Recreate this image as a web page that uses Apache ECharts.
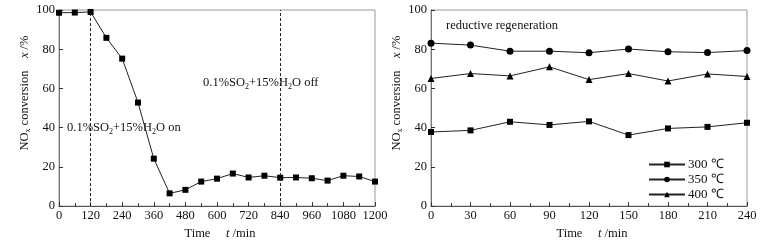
<!DOCTYPE html>
<html>
<head>
<meta charset="utf-8">
<script src="https://cdn.jsdelivr.net/npm/echarts@6/dist/echarts.min.js"></script>
<style>
  html, body { margin: 0; padding: 0; background: #fff; }
  #chart { width: 784px; height: 245px; }
</style>
</head>
<body>
<div id="chart"></div>
<script>
  // left panel: SO2 + H2O poisoning test
  var timeLeft = [0, 60, 120, 180, 240, 300, 360, 420, 480, 540, 600, 660, 720, 780, 840, 900, 960, 1020, 1080, 1140, 1200];
  var convLeft = [98.6, 98.7, 99, 85.8, 75.2, 52.8, 24.2, 6.5, 8.3, 12.5, 14, 16.6, 14.6, 15.5, 14.5, 14.6, 14.2, 13, 15.5, 15.1, 12.5];
  var switchTimes = [120, 840];

  // right panel: reductive regeneration
  var timeRight = [0, 30, 60, 90, 120, 150, 180, 210, 240];
  var conv300 = [37.8, 38.6, 43, 41.4, 43.2, 36.2, 39.6, 40.4, 42.5];
  var conv350 = [83.1, 82.1, 79, 79, 78.2, 80.1, 78.7, 78.3, 79.3];
  var conv400 = [65.1, 67.6, 66.4, 71, 64.5, 67.6, 63.8, 67.4, 66.1];
  var seriesNames = ['300 ℃', '350 ℃', '400 ℃'];

  var xLeftMax = 1200, xLeftStep = 120;
  var xRightMax = 240, xRightStep = 30;
  var yMax = 100, yStep = 20;

  var font = "'Liberation Serif', 'Times New Roman', serif";
  var ink = '#111';

  function pairs(xs, ys) {
    var out = [];
    for (var i = 0; i < xs.length; i++) {
      out.push([xs[i], ys[i]]);
    }
    return out;
  }

  var rich = {
    sub: { fontSize: 8, fontFamily: font, color: ink, padding: [8, 0, 0, 0] },
    i: { fontStyle: 'italic', fontSize: 12.5, fontFamily: font, color: ink }
  };

  function xAxis(idx, max, step) {
    return {
      type: 'value',
      gridIndex: idx,
      min: 0,
      max: max,
      interval: step,
      name: 'Time     {i|t} /min',
      nameLocation: 'middle',
      nameGap: 20,
      nameTextStyle: { fontFamily: font, fontSize: 12.5, color: ink, rich: rich, padding: [0, 0, 0, 6] },
      axisLine: { lineStyle: { color: '#555', width: 1 } },
      axisTick: { inside: true, length: 4, lineStyle: { color: '#333' } },
      minorTick: { show: true, splitNumber: 2, length: 3, lineStyle: { color: '#333' } },
      axisLabel: {
        fontFamily: font, fontSize: 12.5, color: ink, margin: 3,
        formatter: function (v) { return String(v); }
      },
      splitLine: { show: false }
    };
  }

  function yAxis(idx) {
    return {
      type: 'value',
      gridIndex: idx,
      min: 0,
      max: yMax,
      interval: yStep,
      name: 'NO{sub|x} conversion    {i|x} /%',
      nameLocation: 'middle',
      nameGap: 26,
      nameTextStyle: { fontFamily: font, fontSize: 12.5, color: ink, rich: rich, padding: [0, 0, 0, 30] },
      axisLine: { show: true, lineStyle: { color: '#777', width: 1 } },
      axisTick: { inside: true, length: 4, lineStyle: { color: '#333' } },
      axisLabel: { fontFamily: font, fontSize: 12.5, color: ink, margin: 4 },
      splitLine: { show: false }
    };
  }

  function line(name, xIdx, data, symbol, size, extra) {
    var s = {
      name: name,
      type: 'line',
      xAxisIndex: xIdx,
      yAxisIndex: xIdx,
      data: data,
      symbol: symbol,
      symbolSize: size,
      showAllSymbol: true,
      lineStyle: { color: '#222', width: 1 },
      itemStyle: { color: '#000' },
      animation: false
    };
    for (var k in extra) s[k] = extra[k];
    return s;
  }

  var chart = echarts.init(document.getElementById('chart'));
  chart.setOption({
    backgroundColor: '#fff',
    animation: false,
    textStyle: { fontFamily: font },
    grid: [
      { left: 59, top: 10, width: 316, height: 204, show: true, borderColor: '#999', borderWidth: 1, containLabel: false },
      { left: 431, top: 10, width: 316, height: 204, show: true, borderColor: '#999', borderWidth: 1, containLabel: false }
    ],
    xAxis: [xAxis(0, xLeftMax, xLeftStep), xAxis(1, xRightMax, xRightStep)],
    yAxis: [yAxis(0), yAxis(1)],
    legend: {
      data: seriesNames,
      orient: 'vertical',
      left: 643,
      top: 153,
      itemWidth: 36,
      itemHeight: 7,
      itemGap: 2,
      textStyle: { fontFamily: font, fontSize: 13, color: ink, padding: [0, 0, 0, -2] }
    },
    graphic: [
      {
        type: 'text', left: 67, top: 121,
        style: {
          text: '0.1%SO{sub|2}+15%H{sub|2}O on',
          font: '12.5px ' + font, fill: ink, rich: rich
        }
      },
      {
        type: 'text', left: 203, top: 76,
        style: {
          text: '0.1%SO{sub|2}+15%H{sub|2}O off',
          font: '12.5px ' + font, fill: ink, rich: rich
        }
      },
      {
        type: 'text', left: 446, top: 19,
        style: { text: 'reductive regeneration', font: '12.5px ' + font, fill: ink }
      }
    ],
    series: [
      line('poison', 0, pairs(timeLeft, convLeft), 'rect', 6, {
        markLine: {
          silent: true,
          symbol: 'none',
          label: { show: false },
          lineStyle: { color: '#222', type: [3, 2], width: 1 },
          data: switchTimes.map(function (t) { return { xAxis: t }; })
        }
      }),
      line(seriesNames[0], 1, pairs(timeRight, conv300), 'rect', 6, {}),
      line(seriesNames[1], 1, pairs(timeRight, conv350), 'circle', 7, {}),
      line(seriesNames[2], 1, pairs(timeRight, conv400), 'triangle', 7, {})
    ]
  });
</script>
</body>
</html>
